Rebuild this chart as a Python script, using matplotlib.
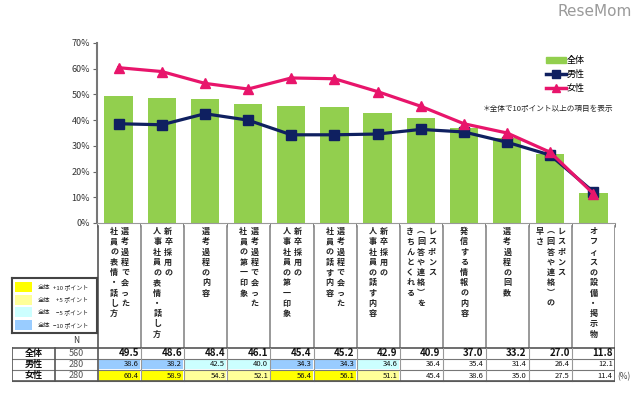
import matplotlib
matplotlib.use("Agg")
import matplotlib.pyplot as plt
from matplotlib.patches import Rectangle, Patch
from matplotlib.lines import Line2D
import numpy as np

plt.rcParams['font.family'] = ['Noto Sans CJK JP', 'DejaVu Sans']

# columns of vertical text, right column first
categories = [
    ["選考過程で会った", "社員の表情・話し方"],
    ["新卒採用の", "人事社員の表情・話し方"],
    ["選考過程の内容"],
    ["選考過程で会った", "社員の第一印象"],
    ["新卒採用の", "人事社員の第一印象"],
    ["選考過程で会った", "社員の話す内容"],
    ["新卒採用の", "人事社員の話す内容"],
    ["レスポンス", "︵回答や連絡︶を", "きちんとくれる"],
    ["発信する情報の内容"],
    ["選考過程の回数"],
    ["レスポンス", "︵回答や連絡︶の", "早さ"],
    ["オフィスの設備・掲示物"],
]
zentai = [49.5, 48.6, 48.4, 46.1, 45.4, 45.2, 42.9, 40.9, 37.0, 33.2, 27.0, 11.8]
dansei = [38.6, 38.2, 42.5, 40.0, 34.3, 34.3, 34.6, 36.4, 35.4, 31.4, 26.4, 12.1]
josei = [60.4, 58.9, 54.3, 52.1, 56.4, 56.1, 51.1, 45.4, 38.6, 35.0, 27.5, 11.4]
row_labels = ["全体", "男性", "女性"]
n_values = [560, 280, 280]
key_labels = ["+10 ポイント", "+5 ポイント", "−5 ポイント", "−10 ポイント"]
key_colors = ["#FFFF00", "#FFFF99", "#CCFFFF", "#99CCFF"]

W, H = 640, 395
fig = plt.figure(figsize=(6.4, 3.95), dpi=100)

def px_axes(x0, y0, x1, y1):
    return fig.add_axes([x0 / W, 1 - y1 / H, (x1 - x0) / W, (y1 - y0) / H])

GREEN = "#92CF4E"
NAVY = "#0F2060"
PINK = "#E8156B"

# ---- main chart
ax = px_axes(97, 43, 615, 223)
x = np.arange(len(zentai))
ax.bar(x, zentai, width=0.66, color=GREEN, zorder=1)
ax.plot(x, dansei, color=NAVY, lw=2.3, marker="s", ms=7, zorder=2)
ax.plot(x, josei, color=PINK, lw=2.3, marker="^", ms=7, zorder=3)
ax.set_xlim(-0.5, 11.5)
ax.set_ylim(0, 70)
ax.set_yticks(range(0, 71, 10))
ax.set_yticklabels([f"{v}%" for v in range(0, 71, 10)], fontsize=6.5, color="#333333")
ax.set_xticks([])
ax.set_xticks(np.arange(-0.5, 12, 1), minor=True)
ax.tick_params(axis="x", which="minor", length=3, color="#666666")
ax.tick_params(axis="y", length=3, color="#666666", pad=2)
for s in ["top", "right"]:
    ax.spines[s].set_visible(False)
ax.spines["left"].set_color("#777777")
ax.spines["left"].set_linewidth(1.5)
ax.spines["bottom"].set_color("#999999")

handles = [Patch(color=GREEN, label="全体"),
           Line2D([], [], color=NAVY, lw=2.5, marker="s", ms=6, label="男性"),
           Line2D([], [], color=PINK, lw=2.5, marker="^", ms=6, label="女性")]
fig.legend(handles=handles, loc="upper left", bbox_to_anchor=(538 / W, 1 - 48 / H),
           frameon=False, fontsize=6.5, handlelength=2.2, handletextpad=0.1,
           labelspacing=0.55)
fig.text(483 / W, 1 - 109 / H, "＊全体で10ポイント以上の項目を表示", fontsize=5.5,
         va="center", color="#222222")
fig.text(632 / W, 1 - 12 / H, "ReseMom", fontsize=11, ha="right", va="center",
         color="#9a9a9a", family="DejaVu Sans")

# ---- table area
tx = px_axes(12, 223, 615, 383)
tx.set_xlim(-2.5, 11.5)
tx.set_ylim(383, 223)
tx.axis("off")

# header separators
for b in np.arange(-0.5, 12, 1):
    tx.plot([b, b], [226, 348], color="#888888" if b > -0.5 else "#555555", lw=1.2)

# vertical category labels
col_step = 0.255
for i, cols in enumerate(categories):
    n = len(cols)
    for j, col in enumerate(cols):
        cx = i + ((n - 1) / 2 - j) * col_step
        tx.text(cx, 227, "\n".join(col), ha="center", va="top", fontsize=5.8,
                linespacing=1.18, color="#222222", fontweight="bold")

tx.text(-1.0, 341, "N", ha="center", va="center", fontsize=6, color="#333333")

rows_top = [348, 359, 370, 381.5]
for r in range(3):
    y0, y1 = rows_top[r], rows_top[r + 1]
    ym = (y0 + y1) / 2
    tx.text(-2.0, ym, row_labels[r], ha="center", va="center", fontsize=6.5,
            fontweight="bold", color="#111111")
    tx.text(-1.0, ym, str(n_values[r]), ha="center", va="center", fontsize=6.5,
            color="#555555")
    vals = [zentai, dansei, josei][r]
    for i, v in enumerate(vals):
        if r > 0:
            d = v - zentai[i]
            c = None
            if d >= 10:
                c = key_colors[0]
            elif d >= 5:
                c = key_colors[1]
            elif d <= -10:
                c = key_colors[3]
            elif d <= -5:
                c = key_colors[2]
            if c:
                tx.add_patch(Rectangle((i - 0.48, y0 + 0.8), 0.96, y1 - y0 - 1.6,
                                       color=c, lw=0))
        tx.text(i + 0.45, ym, f"{v:.1f}", ha="right", va="center",
                fontsize=7 if r == 0 else 5.5,
                fontweight="bold" if r == 0 else "normal", color="#111111")
    tx.plot([-2.5, 11.5], [y1, y1], color="#777777", lw=0.8)
tx.plot([-2.5, 11.5], [348, 348], color="#555555", lw=1.2)
for b in [-2.5, -1.5, -0.5, 11.5]:
    tx.plot([b, b], [348, 381.5], color="#555555", lw=1.2)
for b in np.arange(0.5, 11, 1):
    tx.plot([b, b], [348, 381.5], color="#999999", lw=0.8)
tx.plot([-2.5, 11.5], [381.5, 381.5], color="#555555", lw=1.2)

fig.text(617 / W, 1 - 377 / H, "(%)", fontsize=6, va="center", color="#444444")

# ---- colour key
kx = px_axes(12, 278, 97, 333)
kx.set_xlim(0, 85)
kx.set_ylim(55, 0)
kx.set_xticks([])
kx.set_yticks([])
for s in kx.spines.values():
    s.set_color("#444444")
    s.set_linewidth(1.5)
for k, (lab, c) in enumerate(zip(key_labels, key_colors)):
    yc = 9 + k * 12.7
    kx.add_patch(Rectangle((3, yc - 5), 17, 10, color=c, lw=0))
    kx.text(26, yc, "全体", fontsize=4.5, va="center", color="#222222")
    kx.text(76, yc, lab, fontsize=4.3, va="center", ha="right", color="#222222")

fig.savefig("out.png", dpi=100)
